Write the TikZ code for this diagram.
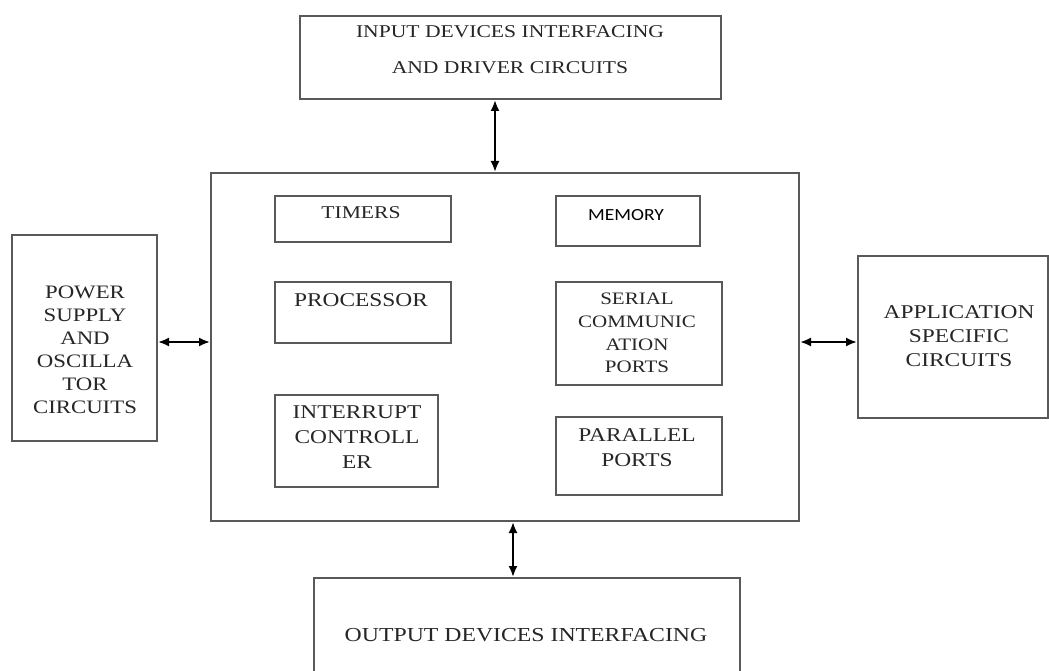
\documentclass[tikz,border=0pt]{standalone}
\usepackage{fontspec}
\setmainfont{Liberation Serif}[FakeStretch=1.2]
\newfontfamily\calib{Carlito}[FakeStretch=1.15]
\usetikzlibrary{arrows.meta}
\tikzset{
  box/.style={draw=black!65, line width=2pt, rectangle, inner sep=0pt, anchor=north west},
  txt/.style={text=black!85, inner sep=0pt, align=center},
  dbl/.style={line width=2pt, black, {Latex[length=11pt,width=9pt]}-{Latex[length=11pt,width=9pt]}},
}
\newcommand{\fs}[2]{\fontsize{#1}{#2}\selectfont}
\begin{document}
\begin{tikzpicture}[x=1pt,y=-1pt]
\useasboundingbox (0,0) rectangle (1049,671);
\clip (0,0) rectangle (1049,671);
\fill[white] (0,0) rectangle (1049,671);
% outer boxes
\node[box, minimum width=421, minimum height=83] (input) at (299,15) {};
\node[txt, font=\fs{18}{36}] at (510,50) {INPUT DEVICES INTERFACING\\AND DRIVER CIRCUITS};
\node[box, minimum width=588, minimum height=348] (main) at (210,172) {};
\node[box, minimum width=145, minimum height=206] (power) at (11,234) {};
\node[txt, font=\fs{19}{23}] at (85,349.5) {POWER\\SUPPLY\\AND\\OSCILLA\\TOR\\CIRCUITS};
\node[box, minimum width=190, minimum height=162] (app) at (857,255) {};
\node[txt, font=\fs{19.5}{24}] at (959,336) {APPLICATION\\SPECIFIC\\CIRCUITS};
\node[box, minimum width=426, minimum height=130] (output) at (313,577) {};
\node[txt, font=\fs{19.8}{24}] at (526,635) {OUTPUT DEVICES INTERFACING};
% inner boxes
\node[box, minimum width=176, minimum height=46] (timers) at (274,195) {};
\node[txt, font=\fs{18}{22}] at (361,213) {TIMERS};
\node[box, minimum width=144, minimum height=50] (memory) at (555,195) {};
\node[txt, text=black, font=\calib\fs{17}{20}] at (626,215) {MEMORY};
\node[box, minimum width=176, minimum height=61] (processor) at (274,281) {};
\node[txt, font=\fs{19.5}{24}] at (361,300) {PROCESSOR};
\node[box, minimum width=166, minimum height=103] (serial) at (555,281) {};
\node[txt, font=\fs{17.5}{22.7}] at (637,333) {SERIAL\\COMMUNIC\\ATION\\PORTS};
\node[box, minimum width=163, minimum height=92] (interrupt) at (274,394) {};
\node[txt, font=\fs{19.5}{25}] at (357,437) {INTERRUPT\\CONTROLL\\ER};
\node[box, minimum width=166, minimum height=78] (parallel) at (555,416) {};
\node[txt, font=\fs{19.5}{25}] at (637,447.5) {PARALLEL\\PORTS};
% connectors
\coordinate (topx) at (495,0);
\coordinate (botx) at (513,0);
\coordinate (midy) at (0,342);
\draw[dbl] (input.south -| topx) -- (main.north -| topx);
\draw[dbl] (main.south -| botx) -- (output.north -| botx);
\draw[dbl] (power.east |- midy) -- (main.west |- midy);
\draw[dbl] (main.east |- midy) -- (app.west |- midy);
\end{tikzpicture}
\end{document}
